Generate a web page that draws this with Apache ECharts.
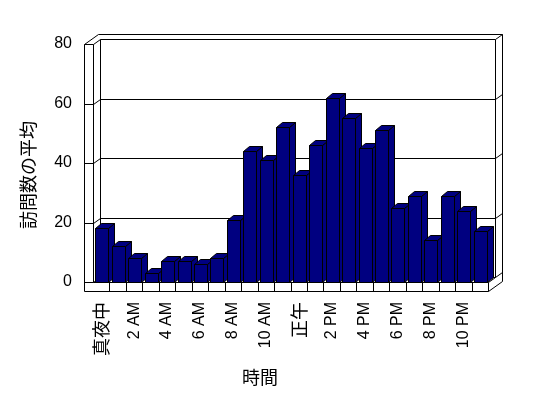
<!DOCTYPE html>
<html><head><meta charset="utf-8">
<script src="https://cdn.jsdelivr.net/npm/echarts@6/dist/echarts.min.js"></script>
<style>html,body{margin:0;padding:0;background:#fff}#c{width:548px;height:398px}</style>
</head><body><div id="c"></div>
<script>
const categories = ['真夜中','1 AM','2 AM','3 AM','4 AM','5 AM','6 AM','7 AM','8 AM','9 AM','10 AM','11 AM','正午','1 PM','2 PM','3 PM','4 PM','5 PM','6 PM','7 PM','8 PM','9 PM','10 PM','11 PM'];
const visits = [18,12,8,3,7,7,6,8,21,44,41,52,36,46,62,55,45,51,25,29,14,29,24,17];
const yTicks = [0,20,40,60,80];
const yName = '訪問数の平均';
const xName = '時間';

const FONT = '"Liberation Sans", "Noto Sans CJK JP", sans-serif';
const CJK = '"Noto Sans CJK JP", sans-serif';
const h = v => Math.round(v) + 0.5;
const ln = (pts) => ({type:'polyline', shape:{points: pts.map(p=>[h(p[0]),h(p[1])])}, style:{stroke:'#000', fill:null, lineWidth:1}, silent:true});

function renderFrame(params, api) {
  const cs = params.coordSys;
  const L = cs.x, R = cs.x + cs.width;
  const bw = api.size([1, 0])[0];
  const yAt = v => api.coord([0, v])[1];
  const T = yAt(yTicks[yTicks.length-1]), B = yAt(0);
  const dx = 7, dy = -5, wt = 9, ft = 9;
  const ch = [];
  // outer silhouette
  ch.push({type:'polygon', shape:{points:[
    [h(L-wt),h(T)],[h(L-wt+2*dx),h(T+2*dy)],[h(R+2*dx),h(T+2*dy)],[h(R+2*dx),h(B+ft+2*dy)],[h(R),h(B+ft)],[h(L-wt),h(B+ft)]
  ]}, style:{fill:'#fff', stroke:'#000', lineWidth:1}, silent:true});
  // left wall inner front edge
  ch.push(ln([[L,T],[L,B]]));
  // back wall left edge and right edge
  ch.push(ln([[L+dx,T+dy],[L+dx,B+dy]]));
  ch.push(ln([[R+dx,T+dy],[R+dx,B+dy]]));
  // floor
  ch.push(ln([[L,B],[R,B],[R+dx,B+dy]]));
  ch.push(ln([[R,B],[R,B+ft]]));
  for (let k = 1; k < categories.length; k++) {
    const x = L + k*bw;
    ch.push(ln([[x,B],[x,B+ft]]));
  }
  // gridlines at each tick
  yTicks.forEach(v => {
    const y = yAt(v);
    ch.push(ln([[L-wt,y],[L,y],[L+dx,y+dy],[R+dx,y+dy],[R+2*dx,y+2*dy]]));
  });
  return {type:'group', children: ch};
}

function renderBar(params, api) {
  const i = api.value(0), v = api.value(1);
  const top = api.coord([i, v]);
  const base = api.coord([i, 0]);
  const x1 = Math.round(top[0] - 6) + 0.5, x2 = x1 + 13;
  const yt = Math.round(top[1]) + 0.5, yb = Math.round(base[1]) + 0.5;
  const dx = 6, dy = -5;
  const st = {fill:'#000080', stroke:'#000', lineWidth:1};
  return {type:'group', children:[
    {type:'polygon', shape:{points:[[x2,yt],[x2+dx,yt+dy],[x2+dx,yb+dy],[x2,yb]]}, style:st},
    {type:'polygon', shape:{points:[[x1,yt],[x2,yt],[x2+dx,yt+dy],[x1+dx,yt+dy]]}, style:st},
    {type:'rect', shape:{x:x1, y:yt, width:13, height:yb-yt}, style:st}
  ]};
}

const chart = echarts.init(document.getElementById('c'), null, {renderer:'canvas'});
chart.setOption({
  animation:false,
  backgroundColor:'#fff',
  grid:{left:93, right:60, top:44, bottom:116},
  xAxis:{type:'category', data:categories, boundaryGap:true,
    axisLine:{show:false}, axisTick:{show:false}, splitLine:{show:false},
    axisLabel:{interval:1, rotate:90, margin:20, color:'#000', fontSize:16, fontFamily:FONT,
      formatter: s => /[\u3000-\u9fff]/.test(s) ? '{c|' + s + '}' : s,
      rich:{c:{fontSize:18, fontFamily:CJK, color:'#000'}}}},
  yAxis:{type:'value', min:0, max:80, interval:20,
    axisLine:{show:false}, axisTick:{show:false}, splitLine:{show:false},
    axisLabel:{margin:21, color:'#000', fontSize:16, fontFamily:FONT}},
  graphic:[
    {type:'text', x:28, y:175, rotation:Math.PI/2, style:{text:yName, fontSize:18, fontFamily:CJK, fill:'#000', align:'center', verticalAlign:'middle'}},
    {type:'text', x:260, y:377, style:{text:xName, fontSize:18, fontFamily:CJK, fill:'#000', align:'center', verticalAlign:'middle'}}
  ],
  series:[
    {type:'custom', name:'frame', data:[[0,0]], encode:{x:0,y:1}, renderItem:renderFrame, clip:false, silent:true, z:1},
    {type:'custom', name:'visits', data:visits.map((v,i)=>[i,v]), encode:{x:0,y:1}, renderItem:renderBar, clip:false, z:2}
  ]
});
</script></body></html>
